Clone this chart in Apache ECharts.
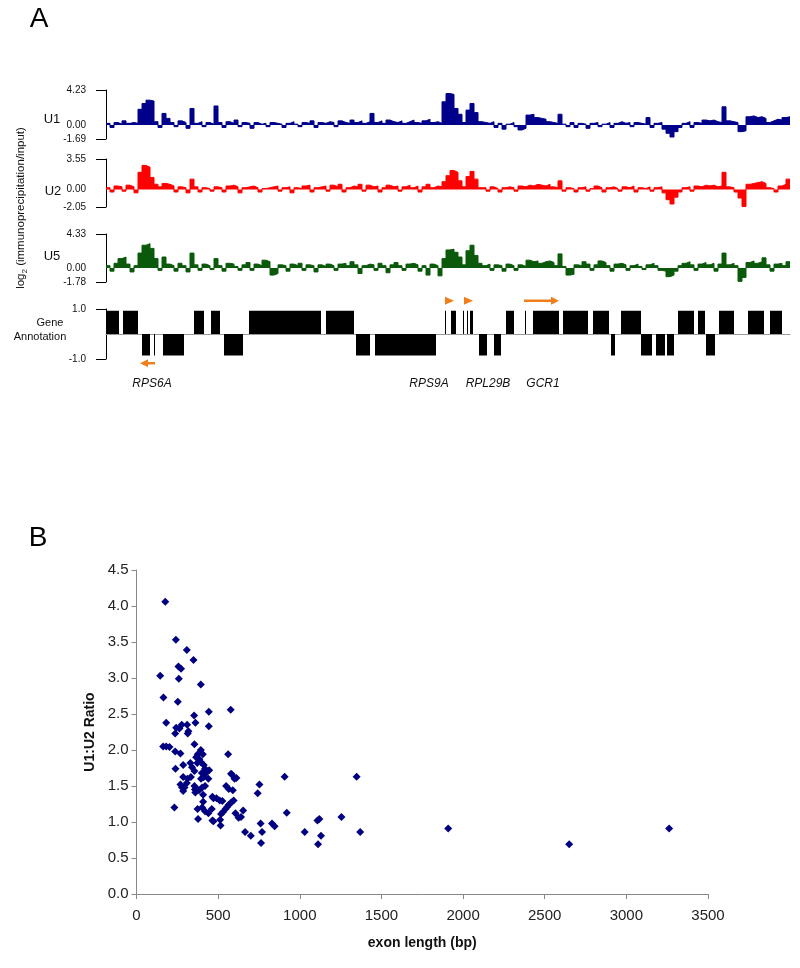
<!DOCTYPE html>
<html><head><meta charset="utf-8">
<script src="https://cdn.jsdelivr.net/npm/echarts@6/dist/echarts.min.js"></script>
<style>html,body{margin:0;padding:0;background:#fff}#c{width:800px;height:968px}</style>
</head><body><div id="c"></div>
<script>
// ---------- Panel A data ----------
const trackNames = ['U1', 'U2', 'U5'];
const trackMin = [-1.69, -2.05, -1.78];
const trackMax = [4.23, 3.55, 4.33];
const binSize = 4; // genomic units per probe bin
const u1Signal = [0.2,-0.3,0.3,0.1,0.5,0.2,0.3,0.2,
 1.9,2.6,3.0,2.9,0.4,
 -0.3,1.4,0.8,0.3,-0.2,0.5,0.3,-0.4,
 2.0,0.2,0.4,-0.2,0.3,0.1,2.3,
 0.3,-0.3,0.4,0.2,0.6,-0.2,0.3,0.2,-0.4,0.3,0.1,0.2,-0.2,
 0.3,0.2,0.1,-0.3,0.2,0.4,0.1,-0.2,0.3,0.2,0.5,-0.3,0.3,0.2,0.4,0.3,-0.2,0.5,0.3,0.2,
 0.6,0.3,0.5,0.2,0.4,1.4,0.3,0.5,0.2,0.6,0.4,0.3,0.5,0.2,0.4,0.6,0.3,0.2,0.5,0.7,0.3,0.4,0.2,
 2.8,3.8,3.7,2.0,1.3,0.3,
 1.8,2.6,1.5,0.4,
 0.3,0.2,0.4,-0.3,0.2,-0.5,0.1,0.3,-0.2,-0.6,-0.4,
 1.2,1.3,0.9,0.8,0.7,
 0.4,0.3,0.2,
 1.3,
 0.1,-0.2,0.3,-0.3,0.2,0.1,-0.4,0.2,0.3,-0.2,0.1,0.3,-0.3,0.2,0.4,0.2,0.3,-0.2,0.3,0.2,0.1,0.9,-0.3,0.2,0.3,
 -0.5,-1.0,-1.45,-0.8,-0.3,
 0.2,0.4,-0.3,0.3,0.2,0.6,0.5,0.6,0.4,0.3,
 2.2,
 0.5,0.4,0.3,
 -0.8,-0.7,
 1.0,1.1,0.9,1.0,0.8,0.3,
 0.5,0.7,0.6,0.9,1.0];
const u2Signal = [0.2,-0.3,0.4,0.3,-0.2,0.5,0.3,-0.4,
 2.0,2.8,2.6,1.4,0.6,
 0.3,0.7,0.6,0.4,-0.3,0.3,0.2,-0.4,
 1.2,0.3,-0.3,0.2,0.1,-0.2,0.3,
 0.2,-0.3,0.4,0.5,0.3,-0.4,0.2,0.3,0.4,0.2,-0.3,0.1,0.2,
 0.3,0.4,-0.2,0.2,0.3,-0.4,0.2,0.1,0.4,0.5,-0.3,0.2,0.3,0.4,-0.2,0.5,0.3,0.6,-0.3,0.2,
 0.4,0.3,0.6,-0.2,0.5,0.3,0.4,-0.3,0.2,0.5,0.3,0.4,-0.2,0.3,0.5,0.2,0.4,-0.3,0.3,0.6,0.2,0.4,0.3,
 0.9,1.6,2.2,2.0,1.0,0.3,1.5,2.1,1.2,0.2,
 0.2,-0.2,0.3,0.1,-0.3,0.2,0.3,0.2,-0.2,0.4,0.3,
 0.5,0.4,0.6,0.5,0.4,0.6,0.3,0.2,
 1.0,
 -0.2,0.2,0.1,-0.3,0.2,0.3,-0.2,0.1,0.4,0.2,-0.3,0.2,0.3,0.1,-0.2,0.3,0.2,0.4,-0.3,0.2,0.1,0.3,-0.2,0.2,0.3,
 -0.4,-1.2,-1.7,-0.9,-0.3,
 0.2,0.3,-0.2,0.4,0.3,0.5,0.4,0.5,0.3,0.4,
 2.0,
 0.3,0.2,-0.3,
 -1.0,-2.0,
 0.6,0.7,0.8,0.9,0.7,0.2,
 0.1,-0.3,0.4,0.6,1.2];
const u5Signal = [0.3,-0.4,0.6,1.2,1.4,0.5,-0.5,0.3,
 1.9,2.9,3.1,2.5,1.2,
 -0.3,1.4,0.5,0.3,-0.4,0.6,0.3,-0.5,
 1.9,0.4,-0.3,0.5,0.3,-0.2,1.2,
 0.3,-0.4,0.6,0.5,0.2,-0.3,0.4,0.7,-0.3,0.5,0.3,1.0,0.8,
 -0.9,-0.7,0.4,0.3,-0.4,0.5,0.3,0.6,-0.3,0.4,0.3,-0.5,0.4,0.2,0.5,0.3,-0.3,0.5,0.6,0.3,
 0.8,0.4,-0.7,0.3,0.5,0.4,-0.3,0.6,0.3,-0.6,0.4,0.7,0.3,-0.3,0.5,0.6,0.4,-0.4,0.3,-0.9,0.5,0.3,-1.0,
 1.2,2.3,2.4,2.0,1.4,0.4,2.2,2.9,1.6,0.6,
 0.3,0.5,-0.3,0.4,0.3,-0.4,0.5,0.3,-0.3,0.4,0.2,
 1.0,0.8,0.9,0.6,0.8,0.9,0.7,0.3,
 1.8,
 0.2,-0.9,-0.8,0.4,0.3,0.8,0.5,-0.3,0.4,0.9,0.7,0.3,-0.4,0.5,0.6,0.4,-0.3,0.3,0.5,0.2,-0.2,0.4,0.6,0.3,-0.3,
 -0.4,-1.1,-0.9,-0.4,0.3,
 0.6,0.8,0.4,-0.3,0.5,0.7,0.4,0.6,-0.4,0.5,
 1.9,
 0.4,0.6,0.3,
 -1.7,-1.2,
 0.7,0.9,0.6,0.8,1.3,0.4,
 -0.4,0.5,0.6,0.3,0.8];

// gene annotation blocks: start, end, strand (+1 Watson / -1 Crick)
const geneStart  = [0,17,88,105,143,220,339,345,357,361,364,400,419,427,457,487,515,572,592,613,642,664,
                    36,48,57,118,250,269,373,388,505,535,550,561,600];
const geneEnd    = [13,32,98,114,215,248,340,350,358,362,367,408,420,453,482,503,535,588,599,628,658,676,
                    44,49,78,137,264,330,381,395,509,546,559,568,609];
const geneStrand = [1,1,1,1,1,1,1,1,1,1,1,1,1,1,1,1,1,1,1,1,1,1,
                    -1,-1,-1,-1,-1,-1,-1,-1,-1,-1,-1,-1,-1];
const geneNames = ['RPS6A', 'RPS9A', 'RPL29B', 'GCR1'];
const geneLabelPos = [46, 323, 382, 437];
const arrowFrom = [49, 339, 358, 418];
const arrowTo = [34, 348, 367, 453];
const arrowStrand = [-1, 1, 1, 1];
const arrowKind = ['arrow', 'head', 'head', 'arrow'];

// ---------- Panel B data ----------
const exonLength = [176,241,308,349,257,273,145,259,394,165,253,577,443,353,182,361,443,277,310,243,263,318,237,314,355,163,182,202,237,269,561,394,375,406,
 365,385,395,372,330,286,412,239,340,355,420,432,445,418,400,410,286,333,312,395,440,579,600,584,612,308,269,294,279,355,370,402,420,286,358,383,360,408,549,565,590,753,742,907,1348,
 465,490,510,526,471,408,402,232,374,461,420,440,530,545,555,565,580,595,518,512,515,377,465,471,606,625,640,653,665,700,760,769,763,830,846,920,1030,1108,1120,1112,1130,1255,1370,1909,2650,3262];
const u1u2Ratio = [4.06,3.53,3.39,3.25,3.16,3.13,3.03,2.99,2.91,2.73,2.67,2.56,2.53,2.48,2.38,2.38,2.33,2.35,2.35,2.31,2.30,2.26,2.23,2.23,2.08,2.05,2.05,2.04,1.98,1.95,1.94,2.00,1.94,1.94,
 1.90,1.87,1.83,1.82,1.82,1.79,1.79,1.74,1.76,1.71,1.74,1.70,1.72,1.66,1.68,1.62,1.625,1.625,1.60,1.60,1.60,1.67,1.60,1.66,1.61,1.54,1.52,1.48,1.48,1.50,1.46,1.48,1.50,1.43,1.45,1.44,1.41,1.38,1.50,1.46,1.44,1.52,1.40,1.63,1.63,
 1.35,1.33,1.30,1.29,1.33,1.28,1.20,1.20,1.18,1.18,1.15,1.12,1.14,1.18,1.21,1.24,1.27,1.30,1.11,1.03,0.95,1.04,1.02,1.01,1.12,1.06,1.07,1.16,0.86,0.81,0.98,0.86,0.71,0.98,0.94,1.13,0.86,1.02,1.04,0.69,0.81,1.07,0.86,0.91,0.69,0.91];
const xTicks = [0, 3500, 500];
const yTicks = [0, 4.5, 0.5];

// ---------- build ----------
const trackColors = ['#00008B', '#FF0000', '#0B5A0B'];
const trackGrids = [{top: 90, height: 49}, {top: 159, height: 48}, {top: 234, height: 48}];
const signals = [u1Signal, u2Signal, u5Signal];
const spanMax = signals[0].length * binSize;
const FONT = 'Arial, "Liberation Sans", Helvetica, sans-serif';

function stepData(arr) {
  const d = arr.map((v, i) => [i * binSize, v]);
  d.push([arr.length * binSize, arr[arr.length - 1]]);
  return d;
}

const grids = [], xAxes = [], yAxes = [], series = [];
trackGrids.forEach((g, i) => {
  grids.push({left: 106, width: 684, top: g.top, height: g.height});
  xAxes.push({gridIndex: i, type: 'value', min: 0, max: spanMax, show: false});
  yAxes.push({
    gridIndex: i, type: 'value', min: trackMin[i], max: trackMax[i], offset: 6,
    axisLine: {show: true, lineStyle: {color: '#000', width: 1}},
    axisTick: {show: true, customValues: [trackMin[i], trackMax[i]], length: 10, lineStyle: {color: '#000'}},
    axisLabel: {customValues: [trackMin[i], 0, trackMax[i]], formatter: v => v.toFixed(2), fontSize: 10, color: '#111', margin: 14, fontFamily: FONT},
    splitLine: {show: false}
  });
  series.push({
    type: 'line', name: trackNames[i], xAxisIndex: i, yAxisIndex: i, step: 'end', showSymbol: false, symbol: 'none',
    data: stepData(signals[i]),
    lineStyle: {color: trackColors[i], width: 1},
    areaStyle: {color: trackColors[i], opacity: 1},
    silent: true
  });
});

// gene annotation grid (index 3)
grids.push({left: 106, width: 684, top: 309, height: 50});
xAxes.push({gridIndex: 3, type: 'value', min: 0, max: spanMax, axisLine: {show: true, onZero: true, lineStyle: {color: '#999', width: 1}}, axisTick: {show: false}, axisLabel: {show: false}, splitLine: {show: false}});
yAxes.push({
  gridIndex: 3, type: 'value', min: -1, max: 1, offset: 6,
  axisLine: {show: true, lineStyle: {color: '#000', width: 1}},
  axisTick: {show: true, customValues: [-1, 1], length: 10, lineStyle: {color: '#000'}},
  axisLabel: {customValues: [-1, 1], formatter: v => v.toFixed(1), fontSize: 10, color: '#111', margin: 14, fontFamily: FONT},
  splitLine: {show: false}
});
series.push({
  type: 'custom', xAxisIndex: 3, yAxisIndex: 3, clip: false, silent: true,
  encode: {x: [0, 1], y: 2},
  data: geneStart.map((s, i) => [s, geneEnd[i], geneStrand[i]]),
  renderItem(params, api) {
    const s = api.value(0), e = api.value(1), st = api.value(2);
    const p0 = api.coord([s, 0]);
    const p1 = api.coord([e, st > 0 ? 0.93 : -0.86]);
    return {type: 'rect', shape: {x: p0[0], y: Math.min(p0[1], p1[1]), width: Math.max(1, p1[0] - p0[0]), height: Math.abs(p1[1] - p0[1])}, style: {fill: '#000'}};
  }
});
series.push({
  type: 'custom', xAxisIndex: 3, yAxisIndex: 3, clip: false, silent: true,
  encode: {x: [0, 1], y: 2},
  data: arrowFrom.map((f, i) => [f, arrowTo[i], arrowStrand[i], arrowKind[i] === 'head' ? 0 : 1]),
  renderItem(params, api) {
    const f = api.value(0), t = api.value(1), st = api.value(2), kind = api.value(3);
    const lvl = st > 0 ? 1.33 : -1.17;
    const p0 = api.coord([f, lvl]), p1 = api.coord([t, lvl]);
    const dir = p1[0] > p0[0] ? 1 : -1;
    const y = p0[1];
    const col = '#EE7F1B';
    if (kind === 0) {
      return {type: 'polygon', shape: {points: [[p0[0], y - 4], [p1[0], y], [p0[0], y + 4]]}, style: {fill: col}};
    }
    const hl = 8;
    return {type: 'group', children: [
      {type: 'line', shape: {x1: p0[0], y1: y, x2: p1[0] - dir * hl, y2: y}, style: {stroke: col, lineWidth: 2.5}},
      {type: 'polygon', shape: {points: [[p1[0] - dir * hl, y - 4], [p1[0], y], [p1[0] - dir * hl, y + 4]]}, style: {fill: col}}
    ]};
  }
});
series.push({
  type: 'custom', xAxisIndex: 3, yAxisIndex: 3, clip: false, silent: true,
  encode: {x: 0, y: 1},
  data: geneLabelPos.map((p, i) => [p, -2.0, i]),
  renderItem(params, api) {
    const p = api.coord([api.value(0), api.value(1)]);
    return {type: 'text', x: p[0], y: p[1], style: {text: geneNames[api.value(2)], fontSize: 12, fontStyle: 'italic', fontFamily: FONT, fill: '#111', align: 'center', verticalAlign: 'middle'}};
  }
});

// Panel B grid (index 4)
grids.push({left: 136.5, top: 570, width: 571.5, height: 324});
xAxes.push({
  gridIndex: 4, type: 'value', min: xTicks[0], max: xTicks[1], interval: xTicks[2],
  name: 'exon length (bp)', nameLocation: 'middle', nameGap: 42,
  nameTextStyle: {fontSize: 14, fontWeight: 'bold', color: '#111', fontFamily: FONT},
  axisLine: {show: true, onZero: false, lineStyle: {color: '#888', width: 1}},
  axisTick: {show: true, length: 5, lineStyle: {color: '#888'}},
  axisLabel: {fontSize: 15, color: '#222', margin: 14, fontFamily: FONT, formatter: v => String(v)},
  splitLine: {show: false}
});
yAxes.push({
  gridIndex: 4, type: 'value', min: yTicks[0], max: yTicks[1], interval: yTicks[2],
  name: 'U1:U2 Ratio', nameLocation: 'middle', nameGap: 38,
  nameTextStyle: {fontSize: 14, fontWeight: 'bold', color: '#111', fontFamily: FONT},
  axisLine: {show: true, lineStyle: {color: '#888', width: 1}},
  axisTick: {show: true, length: 5, lineStyle: {color: '#888'}},
  axisLabel: {fontSize: 15, color: '#222', margin: 8, fontFamily: FONT, formatter: v => v.toFixed(1)},
  splitLine: {show: false}
});
series.push({
  type: 'scatter', xAxisIndex: 4, yAxisIndex: 4, symbol: 'diamond', symbolSize: 8,
  itemStyle: {color: '#000080', opacity: 1},
  data: exonLength.map((x, i) => [x, u1u2Ratio[i]])
});

const graphic = [
  {type: 'text', x: 39, y: 19, style: {text: 'A', fontSize: 28, fontFamily: FONT, fill: '#000', align: 'center', verticalAlign: 'middle'}},
  {type: 'text', x: 38, y: 538, style: {text: 'B', fontSize: 28, fontFamily: FONT, fill: '#000', align: 'center', verticalAlign: 'middle'}},
  {type: 'text', x: 52, y: 119, style: {text: 'U1', fontSize: 13, fontFamily: FONT, fill: '#111', align: 'center', verticalAlign: 'middle'}},
  {type: 'text', x: 53, y: 191, style: {text: 'U2', fontSize: 13, fontFamily: FONT, fill: '#111', align: 'center', verticalAlign: 'middle'}},
  {type: 'text', x: 52, y: 256, style: {text: 'U5', fontSize: 13, fontFamily: FONT, fill: '#111', align: 'center', verticalAlign: 'middle'}},
  {type: 'text', x: 50, y: 323, style: {text: 'Gene', fontSize: 11, fontFamily: FONT, fill: '#111', align: 'center', verticalAlign: 'middle'}},
  {type: 'text', x: 40, y: 337, style: {text: 'Annotation', fontSize: 11, fontFamily: FONT, fill: '#111', align: 'center', verticalAlign: 'middle'}},
  {type: 'text', x: 21, y: 208, rotation: Math.PI / 2,
   style: {text: '{a|log}{s|2}{a| (immunoprecipitation/input)}', fontFamily: FONT, fill: '#111', align: 'center', verticalAlign: 'middle',
     rich: {a: {fontSize: 11.5, lineHeight: 15, fontFamily: FONT, fill: '#111'}, s: {fontSize: 8, lineHeight: 15, verticalAlign: 'bottom', fontFamily: FONT, fill: '#111'}}}}
];

const chart = echarts.init(document.getElementById('c'), null, {renderer: 'canvas'});
chart.setOption({
  animation: false,
  backgroundColor: '#fff',
  grid: grids, xAxis: xAxes, yAxis: yAxes, series, graphic
});
</script>
</body></html>
